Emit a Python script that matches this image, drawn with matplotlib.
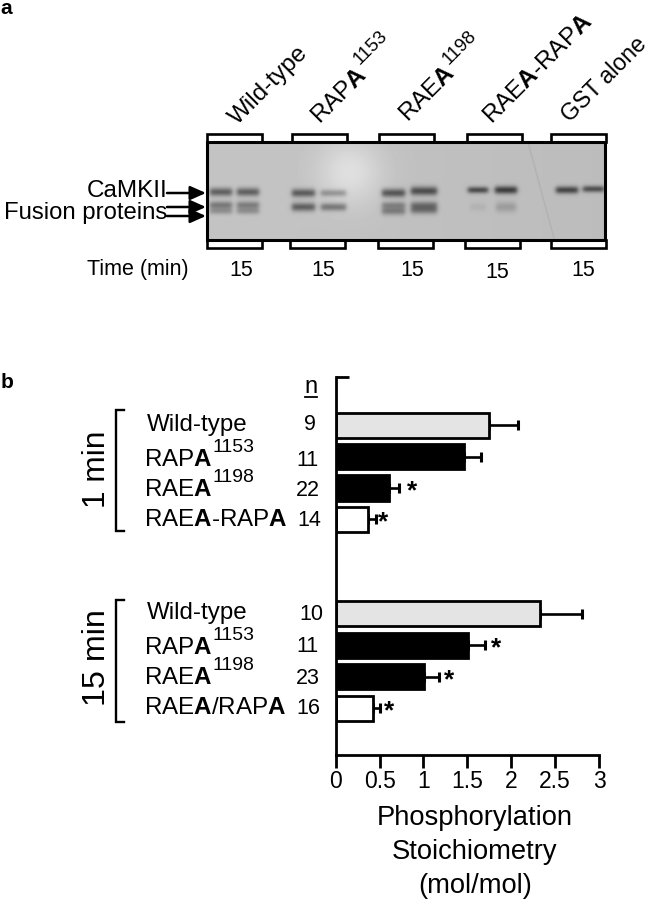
import numpy as np
import matplotlib
matplotlib.use("Agg")
import matplotlib.pyplot as plt
from matplotlib.patches import Rectangle

plt.rcParams['font.family'] = ['Liberation Sans', 'DejaVu Sans']
plt.rcParams['mathtext.fontset'] = 'custom'
plt.rcParams['mathtext.rm'] = 'Liberation Sans'
plt.rcParams['mathtext.bf'] = 'Liberation Sans:bold'
plt.rcParams['mathtext.it'] = 'Liberation Sans:italic'

# ---- data ----
row_index = [0, 1, 2, 3, 6, 7, 8, 9]
stoich = [1.75, 1.46, 0.61, 0.37, 2.33, 1.51, 1.01, 0.425]
err_top = [2.08, 1.65, 0.725, 0.46, 2.81, 1.70, 1.18, 0.505]
bar_colors = ['#e4e4e4', 'black', 'black', 'white', '#e4e4e4', 'black', 'black', 'white']
n_labels = ['9', '11', '22', '14', '10', '11', '23', '16']
star_rows = [2, 3, 7, 8, 9]
star_x = [0.87, 0.54, 1.83, 1.29, 0.61]
xticks = [0, 0.5, 1, 1.5, 2, 2.5, 3]
xticklabels = ['0', '0.5', '1', '1.5', '2', '2.5', '3']
names_1 = ['Wild-type', r'RAP$\mathbf{A}$', r'RAE$\mathbf{A}$', r'RAE$\mathbf{A}$-RAP$\mathbf{A}$']
names_15 = ['Wild-type', r'RAP$\mathbf{A}$', r'RAE$\mathbf{A}$', r'RAE$\mathbf{A}$/RAP$\mathbf{A}$']

# gel bands: x0, x1, y, sigma, darkness
gel_bands = [
    (210, 232, 192, 3.3, 98), (237, 259, 192, 3.3, 98),
    (210, 232, 205, 3.0, 72), (237, 259, 205, 3.0, 68),
    (210, 232, 211, 2.7, 48), (237, 259, 211, 2.7, 48),
    (292, 315, 193, 3.3, 103), (321, 346, 193, 2.8, 58),
    (292, 315, 207, 3.4, 98), (321, 346, 207, 3.1, 78),
    (382, 405, 193, 3.4, 108), (411, 437, 191, 3.5, 113),
    (382, 405, 205, 2.7, 58), (411, 437, 205, 3.0, 68),
    (382, 405, 211, 3.2, 68), (411, 437, 210, 3.2, 73),
    (468, 488, 190, 2.6, 113), (495, 517, 190, 3.1, 128),
    (470, 486, 207, 3.4, 12), (496, 516, 207, 4.0, 34),
    (556, 578, 190, 2.9, 118), (583, 604, 189, 2.6, 108),
]

fig = plt.figure(figsize=(6.53, 9.0), dpi=100)

# overlay in image-pixel coordinates
ov = fig.add_axes([0, 0, 1, 1])
ov.set_xlim(0, 653)
ov.set_ylim(900, 0)
ov.axis('off')

# ---- gel ----
gx0, gx1, gy0, gy1 = 207, 605, 142, 240
X, Y = np.meshgrid(np.arange(gx0, gx1) + .5, np.arange(gy0, gy1) + .5)
img = np.full(X.shape, 196.0)
img -= (X - gx0) / (gx1 - gx0) * 8
img += 30 * np.exp(-((X - 350) / 32) ** 2 - ((Y - 172) / 32) ** 2)
for x0, x1, y, s, d in gel_bands:
    prof = 0.5 * (np.tanh((X - x0) / 2.5) - np.tanh((X - x1) / 2.5))
    img -= d * prof * np.exp(-((Y - y) / s) ** 2 / 2 * 1.2)
img -= 12 * np.exp(-((X - (528 + (Y - gy0) * 0.27)) / 0.9) ** 2)
ov.imshow(np.clip(img, 0, 255), extent=(gx0, gx1, gy1, gy0), cmap='gray', vmin=0, vmax=255,
          interpolation='bilinear', aspect='auto', zorder=1)
ov.set_xlim(0, 653)
ov.set_ylim(900, 0)
ov.add_patch(Rectangle((gx0, gy0), gx1 - gx0, gy1 - gy0, fill=False, ec='black', lw=2.2, zorder=3))

top_boxes = [207, 292, 379, 467, 551]
bot_boxes = [207, 290, 378, 465, 551]
for x in top_boxes:
    ov.add_patch(Rectangle((x, 133.5), 55, 8.5, fc='white', ec='black', lw=1.9, zorder=2))
for x in bot_boxes:
    ov.add_patch(Rectangle((x, 240), 55, 8, fc='white', ec='black', lw=1.9, zorder=2))

# arrows
for y1 in (193, 207, 216):
    ov.annotate('', xy=(206, y1), xytext=(167, y1),
                arrowprops=dict(arrowstyle='-|>,head_length=0.95,head_width=0.42', color='black', lw=1.8,
                                shrinkA=0, shrinkB=0), zorder=4)

ov.text(167, 191, 'CaMKII', ha='right', va='center', fontsize=17.5)
ov.text(167, 213, 'Fusion proteins', ha='right', va='center', fontsize=17.2)
ov.text(87, 270, 'Time (min)', ha='left', va='center', fontsize=15.5)
for x, y in [(241, 270), (323, 270), (412, 271), (497, 272), (583, 271)]:
    ov.text(x, y, '15', ha='center', va='center', fontsize=15.5)

rot = 45
for x, y, s, fs in [(237, 125, 'Wild-type', 17.5), (320, 125, r'RAP$\mathbf{A}$', 17.5),
                    (408, 123, r'RAE$\mathbf{A}$', 17.5),
                    (492, 125, r'RAE$\mathbf{A}$-RAP$\mathbf{A}$', 17.5), (570, 123, 'GST alone', 16.7)]:
    ov.text(x, y, s, rotation=rot, rotation_mode='anchor', ha='left', va='baseline', fontsize=fs)
ov.text(360, 65, '1153', rotation=rot, rotation_mode='anchor', ha='left', va='baseline', fontsize=13.5)
ov.text(449, 65, '1198', rotation=rot, rotation_mode='anchor', ha='left', va='baseline', fontsize=13.5)

ov.text(0, 8, 'a', fontsize=15, fontweight='bold', ha='left', va='center')
ov.text(1, 383, 'b', fontsize=15, fontweight='bold', ha='left', va='center')

# ---- panel b left labels ----
name_y = [425, 460, 490, 520, 613, 648, 678, 708]
for i, s in enumerate(names_1 + names_15):
    ov.text(147 if i in (0, 4) else 144.5, name_y[i], s, ha='left', va='center', fontsize=17.4)
for x, y, s in [(213, 447, '1153'), (213, 478, '1198'), (213, 635, '1153'), (213, 666, '1198')]:
    ov.text(x, y, s, ha='left', va='center', fontsize=14)
n_x = [310, 307, 308, 309, 311, 307, 308, 308]
n_y = [425, 460, 490, 520, 614, 647, 678, 708]
for i, s in enumerate(n_labels):
    ov.text(n_x[i], n_y[i], s, ha='center', va='center', fontsize=15.5)
ov.text(311, 387, 'n', ha='center', va='center', fontsize=17)
ov.plot([305, 317], [396.5, 396.5], color='black', lw=1.3)

ov.text(97, 469, '1 min', rotation=90, ha='center', va='center', fontsize=22.8)
ov.text(97, 658, '15 min', rotation=90, ha='center', va='center', fontsize=23.2)
for y0, y1 in [(410, 531), (600, 722)]:
    ov.plot([124, 116, 116, 124], [y0, y0, y1, y1], color='black', lw=1.7, solid_joinstyle='miter')

# ---- bar chart ----
ax_l, ax_r, ax_t, ax_b = 335.7, 599, 377, 755
ax = fig.add_axes([ax_l / 653, 1 - ax_b / 900, (ax_r - ax_l) / 653, (ax_b - ax_t) / 900])
ax.patch.set_alpha(0)
ax.set_xlim(0, 3)
ax.set_ylim(10.49, -1.53)
ax.barh(row_index, stoich, height=0.8, color=bar_colors, edgecolor='black', linewidth=2.0, zorder=2)
ax.errorbar(stoich, row_index, xerr=[np.zeros(len(stoich)), np.array(err_top) - np.array(stoich)],
            fmt='none', ecolor='black', elinewidth=1.9, capsize=3.4, capthick=2.2, zorder=1)
for r, x in zip(star_rows, star_x):
    ax.text(x, r + 0.1, '*', ha='center', va='center', fontsize=19, fontweight='bold')
for side in ('top', 'right'):
    ax.spines[side].set_visible(False)
for side in ('left', 'bottom'):
    ax.spines[side].set_linewidth(2.0)
ax.set_xticks(xticks)
ax.set_xticklabels(xticklabels, fontsize=16.5)
ax.tick_params(axis='x', length=9.5, width=2.0, pad=1)
ax.set_yticks([-1.53])
ax.set_yticklabels([])
ax.tick_params(axis='y', direction='in', length=9.5, width=2.0)
ax.set_xlabel('Phosphorylation\nStoichiometry\n(mol/mol)', fontsize=19.7, linespacing=1.4, va='top')
ax.xaxis.set_label_coords(0.529, -0.132)

fig.savefig('out.png', dpi=100)
